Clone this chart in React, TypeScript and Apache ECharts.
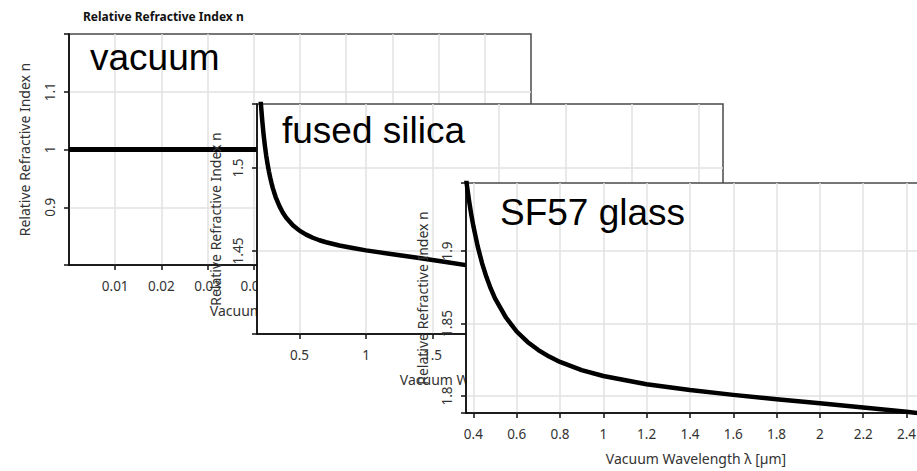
import React, { useEffect, useRef } from "react";
import * as echarts from "echarts";

// Texts
const chartTitle = "Relative Refractive Index n";
const indexAxisName = "Relative Refractive Index n";
const wavelengthAxisName = "Vacuum Wavelength λ [µm]";
const materialNames = ["vacuum", "fused silica", "SF57 glass"];

// Vacuum: n = 1 everywhere
const vacuumWavelength = [0, 0.1];
const vacuumIndex = [1, 1];

// Fused silica dispersion curve (λ in µm)
const silicaWavelength = [
  0.19, 0.2, 0.21, 0.22, 0.23, 0.24, 0.25, 0.26, 0.27, 0.28, 0.29, 0.3, 0.32, 0.35, 0.375,
  0.4, 0.45, 0.5, 0.55, 0.6, 0.65, 0.7, 0.8, 0.9, 1.0, 1.2, 1.4, 1.6, 1.8, 2.0, 2.2, 2.4,
  2.6, 2.8, 3.0, 3.2, 3.4, 3.6, 3.684,
];
const silicaIndex = [
  1.5657, 1.5505, 1.5384, 1.5285, 1.5202, 1.5133, 1.5074, 1.5024, 1.498, 1.4942, 1.4908,
  1.4878, 1.4827, 1.4769, 1.4731, 1.4701, 1.4656, 1.4623, 1.4599, 1.458, 1.4565, 1.4553,
  1.4533, 1.4518, 1.4504, 1.4481, 1.4458, 1.4434, 1.4409, 1.4381, 1.435, 1.4316, 1.4279,
  1.4238, 1.4193, 1.4143, 1.4088, 1.4028, 1.4001,
];

// SF57 glass dispersion curve (λ in µm)
const sf57Wavelength = [
  0.36, 0.37, 0.38, 0.39, 0.4, 0.42, 0.44, 0.46, 0.48, 0.5, 0.55, 0.6, 0.65, 0.7, 0.75, 0.8,
  0.9, 1.0, 1.2, 1.4, 1.6, 1.8, 2.0, 2.2, 2.4, 2.5,
];
const sf57Index = [
  1.9576, 1.9455, 1.9348, 1.9255, 1.9172, 1.9032, 1.8917, 1.8822, 1.8742, 1.8674, 1.8542,
  1.8445, 1.8373, 1.8317, 1.8272, 1.8235, 1.8179, 1.8138, 1.8081, 1.8041, 1.8008, 1.7978,
  1.795, 1.7921, 1.7891, 1.7876,
];

// Axis ranges of each panel
const vacuumRangeX = [0, 0.1];
const vacuumRangeY = [0.8, 1.2];
const silicaRangeX = [0.1805, 3.684];
const silicaRangeY = [1.4, 1.5386];
const sf57RangeX = [0.366, 2.49];
const sf57RangeY = [1.7883, 1.9469];

const TEXT = "#333";
const FONT = '"Noto Sans", "Open Sans", sans-serif';
const BIG_FONT = '"Liberation Sans", Arial, sans-serif';
const TICK = { show: true, length: 5, lineStyle: { color: "#111", width: 1.5 } };

type Box = { left: number; top: number; width: number; height: number };
type TickRule = { interval?: number; splitNumber?: number };

function pairs(xs: number[], ys: number[]) {
  return xs.map((x, i) => [x, ys[i]]);
}

function makeAxis(
  idx: number,
  z: number,
  range: number[],
  name: string,
  nameGap: number,
  ticks: TickRule,
  vertical: boolean
) {
  return {
    type: "value",
    gridIndex: idx,
    min: range[0],
    max: range[1],
    ...ticks,
    z,
    name,
    nameLocation: "middle",
    nameGap,
    nameTextStyle: { color: TEXT, fontFamily: FONT, fontSize: 14 },
    axisLine: { show: true, onZero: false, lineStyle: { color: "#000", width: 1.5 } },
    axisTick: vertical ? { show: false } : TICK,
    axisLabel: {
      color: TEXT,
      fontFamily: FONT,
      fontSize: 13.5,
      margin: vertical ? 12 : 14,
      rotate: vertical ? 90 : 0,
      showMinLabel: false,
      showMaxLabel: false,
    },
    splitLine: {
      show: true,
      showMinLine: false,
      showMaxLine: false,
      lineStyle: { color: "#e2e2e2", width: 1.5 },
    },
  };
}

// Companion y axis that only carries the tick marks of the rotated-label axis
function makeTickAxis(idx: number, z: number, range: number[], ticks: TickRule) {
  return {
    type: "value",
    gridIndex: idx,
    position: "left",
    min: range[0],
    max: range[1],
    ...ticks,
    z,
    axisLine: { show: false, onZero: false },
    axisTick: TICK,
    axisLabel: { show: false },
    splitLine: { show: false },
  };
}

function makeGrid(box: Box, z: number) {
  return {
    ...box,
    z,
    show: true,
    backgroundColor: "#fff",
    borderColor: "#4a4a4a",
    borderWidth: 1.5,
    outerBoundsMode: "none",
  };
}

function makeSeries(idx: number, z: number, data: number[][], width: number) {
  return {
    type: "line",
    xAxisIndex: idx,
    yAxisIndex: idx,
    z,
    data,
    clip: true,
    silent: true,
    showSymbol: false,
    symbol: "none",
    smooth: false,
    lineStyle: { color: "#000", width, join: "round", cap: "butt" },
  };
}

function bigLabel(text: string, x: number, y: number, z: number) {
  return {
    type: "text",
    x,
    y,
    z,
    style: { text, fill: "#000", fontFamily: BIG_FONT, fontSize: 37, verticalAlign: "middle" },
  };
}

export default function App() {
  const ref = useRef<HTMLDivElement>(null);

  useEffect(() => {
    if (!ref.current) return;
    const chart = echarts.init(ref.current, undefined, { renderer: "svg" });

    const boxes: Box[] = [
      { left: 69, top: 34, width: 462, height: 231 },
      { left: 257, top: 104, width: 466, height: 230 },
      { left: 466, top: 183, width: 460, height: 230 },
    ];

    const yTicks: TickRule[] = [{ interval: 0.1 }, { interval: 0.05 }, { splitNumber: 3 }];

    const option = {
      animation: false,
      backgroundColor: "#fff",
      grid: boxes.map((b, i) => makeGrid(b, i * 3)),
      xAxis: [
        makeAxis(0, 1, vacuumRangeX, wavelengthAxisName, 38, { interval: 0.01 }, false),
        makeAxis(1, 4, silicaRangeX, wavelengthAxisName, 38, { splitNumber: 7 }, false),
        makeAxis(2, 7, sf57RangeX, wavelengthAxisName, 38, { splitNumber: 10 }, false),
      ],
      yAxis: [
        makeAxis(0, 1, vacuumRangeY, indexAxisName, 38, yTicks[0], true),
        makeAxis(1, 4, silicaRangeY, indexAxisName, 35, yTicks[1], true),
        makeAxis(2, 7, sf57RangeY, indexAxisName, 37, yTicks[2], true),
        makeTickAxis(0, 1, vacuumRangeY, yTicks[0]),
        makeTickAxis(1, 4, silicaRangeY, yTicks[1]),
        makeTickAxis(2, 7, sf57RangeY, yTicks[2]),
      ],
      series: [
        makeSeries(0, 2, pairs(vacuumWavelength, vacuumIndex), 5),
        makeSeries(1, 5, pairs(silicaWavelength, silicaIndex), 4.5),
        makeSeries(2, 8, pairs(sf57Wavelength, sf57Index), 4.5),
      ],
      graphic: [
        {
          type: "text",
          x: 83,
          y: 16,
          z: 2,
          style: {
            text: chartTitle,
            fill: "#111",
            fontFamily: FONT,
            fontWeight: "bold",
            fontSize: 12,
            verticalAlign: "middle",
          },
        },
        bigLabel(materialNames[0], 90, 57, 2),
        bigLabel(materialNames[1], 282, 130, 5),
        bigLabel(materialNames[2], 500, 212, 8),
      ],
    };

    chart.setOption(option as any);
    return () => chart.dispose();
  }, []);

  return (
    <div
      ref={ref}
      style={{ position: "absolute", left: 0, top: 0, width: 917, height: 471, overflow: "hidden" }}
    />
  );
}
